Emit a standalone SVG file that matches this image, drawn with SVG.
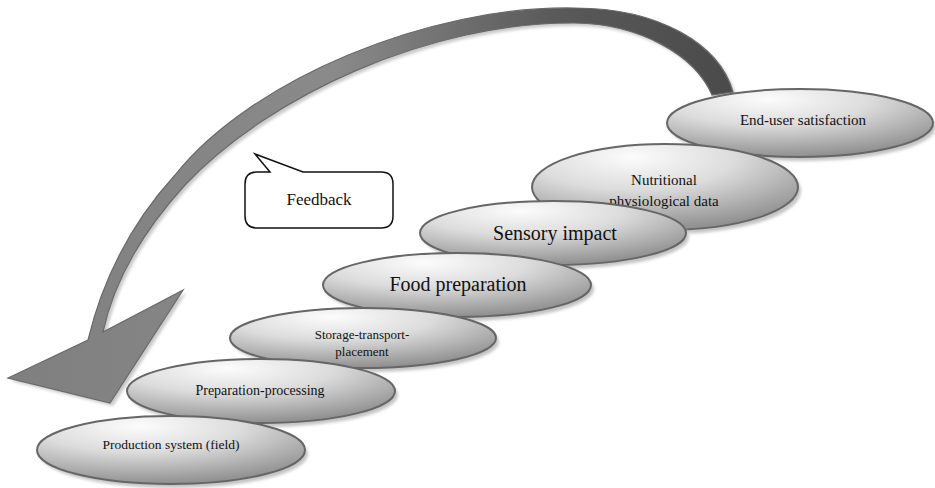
<svg xmlns="http://www.w3.org/2000/svg" width="935" height="488" viewBox="0 0 935 488">
<defs>
<radialGradient id="eg" cx="0.38" cy="0.15" r="0.85">
<stop offset="0" stop-color="#fcfcfc"/>
<stop offset="0.45" stop-color="#dcdcdc"/>
<stop offset="1" stop-color="#909090"/>
</radialGradient>
<linearGradient id="ag" x1="0" y1="0" x2="1" y2="0" gradientUnits="objectBoundingBox">
<stop offset="0" stop-color="#7f7f7f"/>
<stop offset="0.45" stop-color="#8a8a8a"/>
<stop offset="0.75" stop-color="#5a5a5a"/>
<stop offset="1" stop-color="#4a4a4a"/>
</linearGradient>
<filter id="blur" x="-10%" y="-10%" width="120%" height="120%"><feGaussianBlur stdDeviation="1.5"/></filter>
</defs>
<style>
.sh{fill:#c4c4c4;filter:url(#blur)}
.el{fill:url(#eg);stroke:#666;stroke-width:2}
.t{fill:#111;text-anchor:middle;font-family:'Liberation Serif','DejaVu Serif','Noto Serif',serif}
</style>
<rect width="935" height="488" fill="#fff"/>
<g id="connectors">
<path d="M 733 92 C 720 45, 660 8, 575 8 C 430 5, 250 80, 175 175 C 125 230, 100 290, 88 340 L 8 378 L 110 403 L 183 290 L 103 332 C 112 290, 135 240, 185 185 C 270 95, 430 22, 575 23 C 640 24, 695 55, 712 95 Z" fill="#c9c9c9" transform="translate(3,3)" filter="url(#blur)"/>
<path d="M 733 92 C 720 45, 660 8, 575 8 C 430 5, 250 80, 175 175 C 125 230, 100 290, 88 340 L 8 378 L 110 403 L 183 290 L 103 332 C 112 290, 135 240, 185 185 C 270 95, 430 22, 575 23 C 640 24, 695 55, 712 95 Z" fill="url(#ag)" stroke="#6a6a6a" stroke-width="1.2"/>
</g>
<g id="feedback">
<path d="M 257 172 L 270 172 L 255 154 L 303 172 L 381 172 Q 393 172 393 184 L 393 216 Q 393 228 381 228 L 257 228 Q 245 228 245 216 L 245 184 Q 245 172 257 172 Z" fill="#fff" stroke="#111" stroke-width="1.5"/>
<text class="t" x="319" y="205" font-size="17">Feedback</text>
</g>
<g id="end-user">
<ellipse class="sh" cx="803" cy="127" rx="133" ry="34"/>
<ellipse class="el" cx="800" cy="123" rx="133" ry="34"/>
<text class="t" x="803" y="125" font-size="15">End-user satisfaction</text>
</g>
<g id="nutritional">
<ellipse class="sh" cx="668" cy="191" rx="133" ry="43"/>
<ellipse class="el" cx="665" cy="187" rx="133" ry="43"/>
<text class="t" x="664" y="185" font-size="15">Nutritional</text>
<text class="t" x="664" y="206" font-size="15">physiological data</text>
</g>
<g id="sensory">
<ellipse class="sh" cx="556" cy="237" rx="133" ry="32"/>
<ellipse class="el" cx="553" cy="233" rx="133" ry="32"/>
<text class="t" x="555" y="240" font-size="20">Sensory impact</text>
</g>
<g id="food-prep">
<ellipse class="sh" cx="460" cy="289" rx="134" ry="32"/>
<ellipse class="el" cx="457" cy="285" rx="134" ry="32"/>
<text class="t" x="458" y="291" font-size="20">Food preparation</text>
</g>
<g id="storage">
<ellipse class="sh" cx="366" cy="342" rx="133" ry="30"/>
<ellipse class="el" cx="363" cy="338" rx="133" ry="30"/>
<text class="t" x="362" y="339" font-size="13">Storage-transport-</text>
<text class="t" x="362" y="356" font-size="13">placement</text>
</g>
<g id="preparation">
<ellipse class="sh" cx="264" cy="395" rx="134" ry="32"/>
<ellipse class="el" cx="261" cy="391" rx="134" ry="32"/>
<text class="t" x="260" y="395" font-size="14">Preparation-processing</text>
</g>
<g id="production">
<ellipse class="sh" cx="174" cy="454" rx="134" ry="34"/>
<ellipse class="el" cx="171" cy="450" rx="134" ry="34"/>
<text class="t" x="171" y="449" font-size="13.5">Production system (field)</text>
</g>
</svg>
